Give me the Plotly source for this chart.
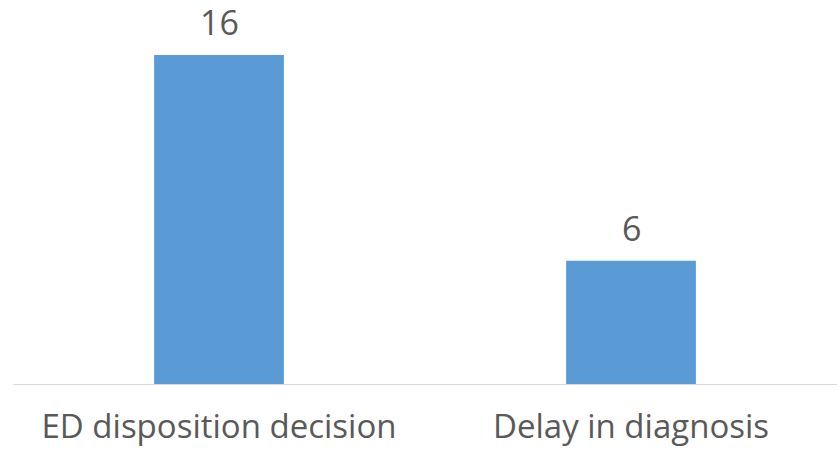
import plotly.graph_objects as go

categories = ["ED disposition decision", "Delay in diagnosis"]
values = [16, 6]

bar_color = "#5B9BD5"
text_color = "#595959"
font_family = "Open Sans"

fig = go.Figure()
fig.add_trace(go.Bar(
    x=categories,
    y=values,
    marker=dict(color=bar_color, line=dict(width=0)),
    hoverinfo="skip",
))

for c, v in zip(categories, values):
    fig.add_annotation(
        x=c, y=v, text=str(v), showarrow=False,
        yanchor="bottom", yshift=8,
        font=dict(family=font_family, size=34, color=text_color),
    )

fig.update_layout(
    width=840, height=456,
    margin=dict(l=13, r=3, t=0, b=72),
    paper_bgcolor="white", plot_bgcolor="white",
    bargap=0.685,
    showlegend=False,
    xaxis=dict(
        showline=True, linecolor="#D9D9D9", linewidth=1.3,
        showgrid=False, zeroline=False,
        ticks="", ticklabelstandoff=13,
        tickfont=dict(family=font_family, size=33, color=text_color),
    ),
    yaxis=dict(
        range=[0, 18.68], visible=False, showgrid=False, zeroline=False,
    ),
)

fig.write_html(
    "out.html",
    config={"displayModeBar": False},
    post_script="document.body.style.margin='0px';document.body.style.padding='0px';",
)
